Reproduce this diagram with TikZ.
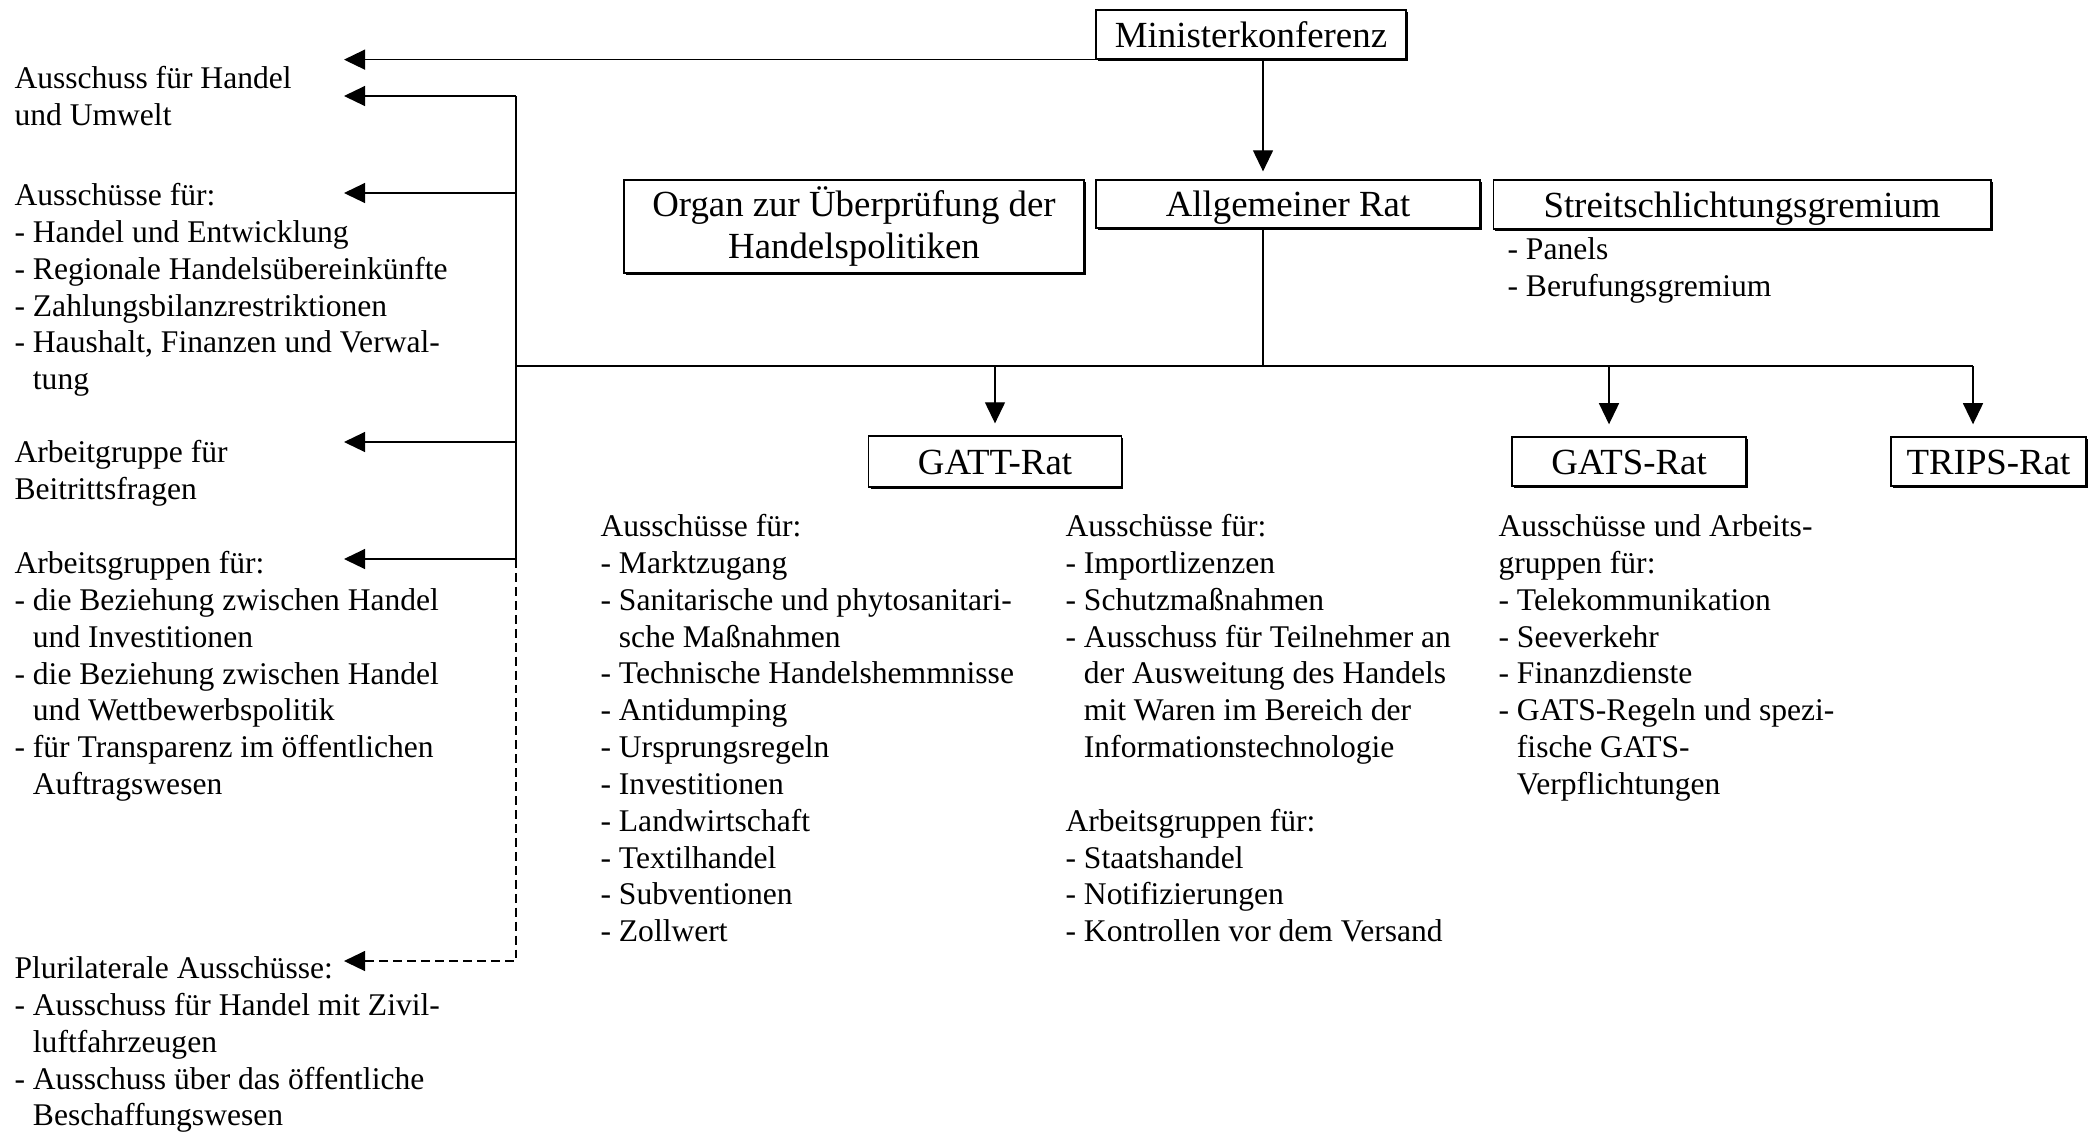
\documentclass[tikz,border=0pt]{standalone}
\usepackage{fontspec}
\setmainfont{Liberation Serif}
\usetikzlibrary{arrows.meta,shadows}
\newcommand{\einzug}{\hspace*{0.583em}}
\newcommand{\oben}{\rule{0pt}{11pt}}

\begin{document}
\begin{tikzpicture}[x=0.38pt,y=-0.38pt,
  rat/.style={draw, line width=0.6pt, fill=white, inner sep=0pt, align=center,
    font=\fontsize{14}{16.3}\selectfont,
    drop shadow={shadow xshift=0.8pt, shadow yshift=-0.8pt, opacity=1, fill=black}},
  einzeilig/.style={text height=9.7pt, text depth=0pt},
  liste/.style={anchor=north west, inner sep=0pt, align=left, font=\fontsize{12}{14}\selectfont},
  pfeil/.style={line width=0.5pt, -{Triangle[width=7.6pt,length=8pt]}},
  strich/.style={dash pattern=on 3.4pt off 1.9pt}]
\useasboundingbox (0,0) rectangle (2096,1132);

% Boxes
\node[rat, einzeilig, minimum width=118pt, minimum height=18.5pt] (minister) at (1251,34.5) {Ministerkonferenz};
\node[rat, einzeilig, minimum width=146pt, minimum height=18.2pt] (allgrat) at (1288,204) {Allgemeiner Rat};
\node[rat, minimum width=175pt, minimum height=35.2pt] (organ) at (854,226.5) {Organ zur Überprüfung der\\Handelspolitiken};
\node[rat, einzeilig, minimum width=189pt, minimum height=18.5pt] (streit) at (1742,204.5) {Streitschlichtungsgremium};
\node[rat, einzeilig, minimum width=96pt, minimum height=19.2pt] (gattrat) at (995,461.5) {GATT-Rat};
\node[rat, einzeilig, minimum width=89pt, minimum height=18.5pt] (gatsrat) at (1629,461.5) {GATS-Rat};
\node[rat, einzeilig, minimum width=74pt, minimum height=18.5pt] (tripsrat) at (1988.5,461.5) {TRIPS-Rat};

% Hilfspunkte
\coordinate (stamm) at (516,0);
\coordinate (achse) at (1263,0);
\coordinate (spitze) at (344,0);
\coordinate (t1) at (344,96);
\coordinate (t2) at (344,193);
\coordinate (t3) at (344,442);
\coordinate (t4) at (344,559);
\coordinate (t5) at (344,961);
\coordinate (quer) at (516,366);
\coordinate (qGatt) at (995,366);
\coordinate (qGats) at (1609,366);
\coordinate (qTrips) at (1973,366);

% Verbindungen
\draw[pfeil] (minister.south west) -- (minister.south west -| spitze);
\draw[pfeil, shorten >=3pt] (minister.south -| achse) -- (allgrat.north -| achse);
\draw[line width=0.5pt] (allgrat.south -| achse) -- (quer -| achse);
\draw[line width=0.5pt] (quer) -- (qTrips);
\draw[line width=0.5pt] (t1 -| stamm) -- (t4 -| stamm);
\foreach \t in {t1,t2,t3,t4}
  \draw[pfeil] (\t -| stamm) -- (\t);
\draw[pfeil, strich] (t4 -| stamm) |- (t5);
\draw[pfeil, shorten >=4.6pt] (qGatt) -- (qGatt |- gattrat.north);
\draw[pfeil, shorten >=4.6pt] (qGats) -- (qGats |- gatsrat.north);
\draw[pfeil, shorten >=4.6pt] (qTrips) -- (qTrips |- tripsrat.north);

% Text Nodes
\node[liste] (umwelt) at (14,59) {\oben Ausschuss für Handel\\und Umwelt};
\node[liste] (ausschuesse) at (14,176) {\oben Ausschüsse für:\\- Handel und Entwicklung\\- Regionale Handelsübereinkünfte\\- Zahlungsbilanzrestriktionen\\- Haushalt, Finanzen und Verwal-\\\einzug tung};
\node[liste] (beitritt) at (14,433) {\oben Arbeitgruppe für\\Beitrittsfragen};
\node[liste] (arbgruppen) at (14,544) {\oben Arbeitsgruppen für:\\- die Beziehung zwischen Handel\\\einzug und Investitionen\\- die Beziehung zwischen Handel\\\einzug und Wettbewerbspolitik\\- für Transparenz im öffentlichen\\\einzug Auftragswesen};
\node[liste] (pluri) at (14,949) {\oben Plurilaterale Ausschüsse:\\- Ausschuss für Handel mit Zivil-\\\einzug luftfahrzeugen\\- Ausschuss über das öffentliche\\\einzug Beschaffungswesen};
\node[liste] (streitL) at (1507,230) {\oben - Panels\\- Berufungsgremium};
\node[liste] (gattA) at (600,507) {\oben Ausschüsse für:\\- Marktzugang\\- Sanitarische und phytosanitari-\\\einzug sche Maßnahmen\\- Technische Handelshemmnisse\\- Antidumping\\- Ursprungsregeln\\- Investitionen\\- Landwirtschaft\\- Textilhandel\\- Subventionen\\- Zollwert};
\node[liste] (gattB) at (1065,507) {\oben Ausschüsse für:\\- Importlizenzen\\- Schutzmaßnahmen\\- Ausschuss für Teilnehmer an\\\einzug der Ausweitung des Handels\\\einzug mit Waren im Bereich der\\\einzug Informationstechnologie\\[14pt]Arbeitsgruppen für:\\- Staatshandel\\- Notifizierungen\\- Kontrollen vor dem Versand};
\node[liste] (gatsL) at (1498,507) {\oben Ausschüsse und Arbeits-\\gruppen für:\\- Telekommunikation\\- Seeverkehr\\- Finanzdienste\\- GATS-Regeln und spezi-\\\einzug fische GATS-\\\einzug Verpflichtungen};

\end{tikzpicture}
\end{document}
